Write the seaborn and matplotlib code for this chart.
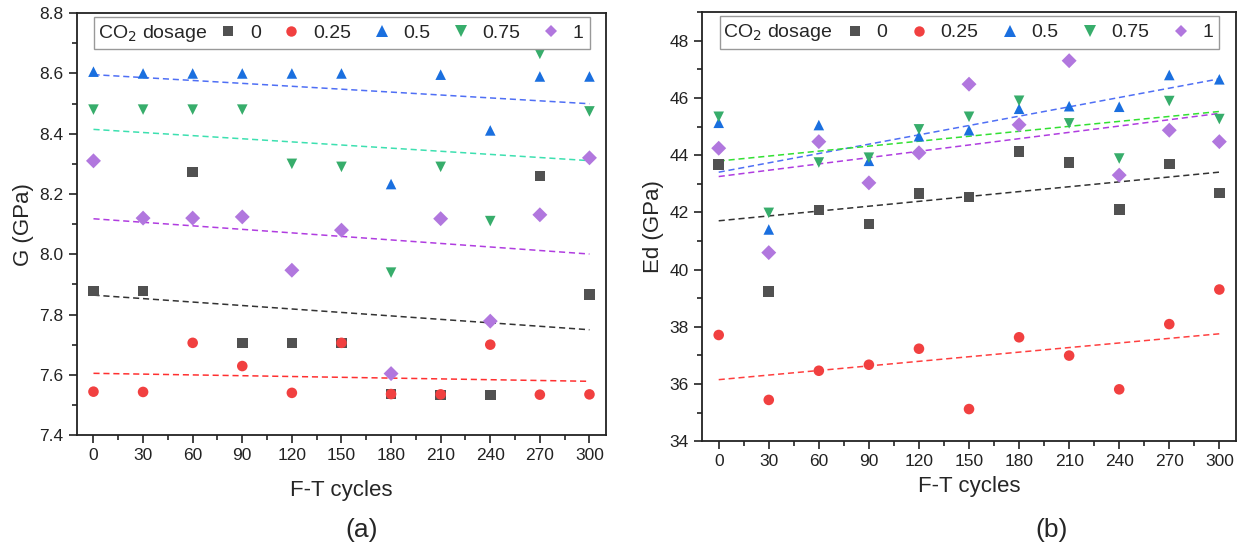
import matplotlib
matplotlib.use("Agg")
import matplotlib.pyplot as plt
from matplotlib.ticker import MultipleLocator
from matplotlib.patches import Rectangle
from matplotlib.lines import Line2D
import seaborn as sns
import pandas as pd

cycles = [0, 30, 60, 90, 120, 150, 180, 210, 240, 270, 300]
dosages = ['0', '0.25', '0.5', '0.75', '1']

# shear modulus G (GPa)
g_0 = [7.878, 7.878, 8.273, 7.706, 7.706, 7.706, 7.536, 7.533, 7.533, 8.260, 7.867]
g_025 = [7.544, 7.543, 7.706, 7.629, 7.540, 7.706, 7.536, 7.535, 7.700, 7.534, 7.535]
g_05 = [8.606, 8.600, 8.600, 8.600, 8.600, 8.600, 8.233, 8.596, 8.411, 8.590, 8.590]
g_075 = [8.480, 8.480, 8.480, 8.480, 8.300, 8.290, 7.939, 8.290, 8.110, 8.665, 8.474]
g_1 = [8.310, 8.120, 8.120, 8.124, 7.947, 8.080, 7.604, 8.118, 7.778, 8.131, 8.320]

# dynamic modulus Ed (GPa)
ed_0 = [43.67, 39.23, 42.08, 41.59, 42.65, 42.54, 44.12, 43.74, 42.10, 43.69, 42.68]
ed_025 = [37.71, 35.44, 36.46, 36.67, 37.23, 35.12, 37.63, 36.99, 35.81, 38.09, 39.30]
ed_05 = [45.13, 41.40, 45.05, 43.80, 44.66, 44.87, 45.62, 45.71, 45.69, 46.80, 46.65]
ed_075 = [45.34, 41.98, 43.74, 43.91, 44.90, 45.34, 45.90, 45.11, 43.88, 45.89, 45.26]
ed_1 = [44.24, 40.59, 44.47, 43.03, 44.08, 46.48, 45.06, 47.30, 43.30, 44.87, 44.47]

palette = {'0': '#515151', '0.25': '#F14040', '0.5': '#1A6FDF',
           '0.75': '#37AD6B', '1': '#B177DE'}
markers = {'0': 's', '0.25': 'o', '0.5': '^', '0.75': 'v', '1': 'D'}
legend_ms = {'0': 6.5, '0.25': 7.5, '0.5': 8, '0.75': 8, '1': 6.5}
fit_a = {'0': '#333333', '0.25': '#ff3030', '0.5': '#4f6ff5',
         '0.75': '#3de0b0', '1': '#b03de0'}
fit_b = {'0': '#333333', '0.25': '#ff4040', '0.5': '#4f6ff5',
         '0.75': '#33e033', '1': '#b03de0'}


def long_frame(series, name):
    rows = []
    for d, vals in zip(dosages, series):
        for c, v in zip(cycles, vals):
            rows.append({'cycles': c, name: v, 'dosage': d})
    return pd.DataFrame(rows)


def draw(ax, df, name, fits, ylabel, ylim, major, box, labelpad):
    sns.scatterplot(data=df, x='cycles', y=name, hue='dosage', style='dosage',
                    hue_order=dosages, style_order=dosages, palette=palette,
                    markers=markers, s=58, linewidth=0, ax=ax, zorder=3,
                    legend=False)
    for d in dosages:
        sns.regplot(data=df[df['dosage'] == d], x='cycles', y=name, scatter=False,
                    ci=None, ax=ax, line_kws={'color': fits[d], 'ls': (0, (4, 2.5)),
                                              'lw': 1.1})
    ax.set_xlim(-10, 310)
    ax.set_ylim(*ylim)
    ax.set_xticks(cycles)
    ax.xaxis.set_minor_locator(MultipleLocator(15))
    ax.yaxis.set_major_locator(MultipleLocator(major))
    ax.yaxis.set_minor_locator(MultipleLocator(major / 2))
    ax.tick_params(which='major', direction='out', length=6, width=1.2,
                   labelsize=12.5, color='#222222', labelcolor='#222222')
    ax.tick_params(which='minor', direction='out', length=3.5, width=1.2,
                   color='#222222')
    for sp in ax.spines.values():
        sp.set_linewidth(1.3)
        sp.set_color('#222222')
    ax.set_xlabel('F-T cycles', fontsize=16, labelpad=labelpad)
    ax.set_ylabel(ylabel, fontsize=16)

    # legend: framed row with "CO2 dosage" caption and marker entries
    y0, y1 = box
    ax.add_patch(Rectangle((0.033, y0), 0.936, y1 - y0, transform=ax.transAxes,
                           facecolor='white', edgecolor='#999999', lw=1.0,
                           zorder=4))
    ax.text(0.04, (y0 + y1) / 2, 'CO$_2$ dosage', transform=ax.transAxes,
            ha='left', va='center', fontsize=14, zorder=5)
    handles = [Line2D([], [], ls='none', marker=markers[d], color=palette[d],
                      markersize=legend_ms[d], markeredgewidth=0) for d in dosages]
    leg = ax.legend(handles, dosages, ncol=5, loc='center left',
                    bbox_to_anchor=(0.275, (y0 + y1) / 2, 0.683, 0.0),
                    mode='expand', fontsize=14, frameon=False,
                    handlelength=0.6, handletextpad=0.82, columnspacing=1.1,
                    borderpad=0, borderaxespad=0)
    leg.set_zorder(6)


sns.set_theme(style='ticks')
plt.rcParams['font.family'] = ['Liberation Sans', 'DejaVu Sans']

fig = plt.figure(figsize=(12.39, 5.5), dpi=100)
ax_a = fig.add_axes([0.0621, 0.209, 0.427, 0.767])
ax_b = fig.add_axes([0.5666, 0.198, 0.431, 0.780])

df_g = long_frame([g_0, g_025, g_05, g_075, g_1], 'G')
df_ed = long_frame([ed_0, ed_025, ed_05, ed_075, ed_1], 'Ed')

draw(ax_a, df_g, 'G', fit_a, 'G (GPa)', (7.4, 8.8), 0.2, (0.9147, 0.9905), 12)
draw(ax_b, df_ed, 'Ed', fit_b, 'Ed (GPa)', (34, 49), 2, (0.9138, 0.9907), 5)

fig.text(0.2915, 0.036, '(a)', ha='center', va='center', fontsize=19)
fig.text(0.849, 0.036, '(b)', ha='center', va='center', fontsize=19)

fig.savefig('out.png', dpi=100)
